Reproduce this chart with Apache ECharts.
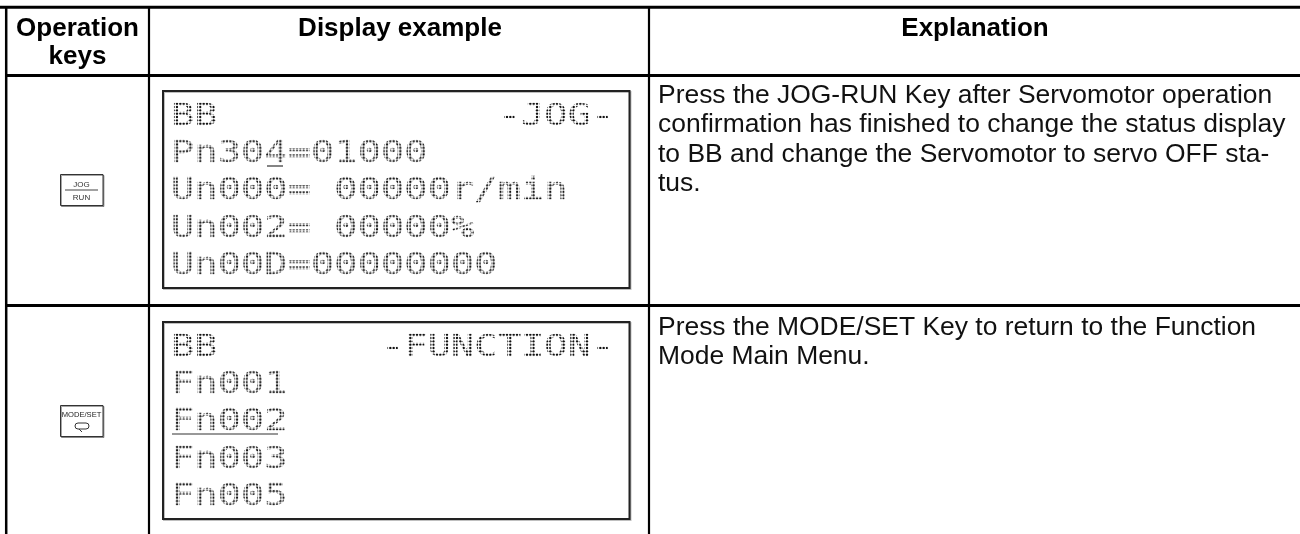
<!DOCTYPE html>
<html>
<head>
<meta charset="utf-8">
<style>html,body{margin:0;padding:0;background:#fff}#main{width:1300px;height:534px}</style>
<script src="https://cdn.jsdelivr.net/npm/echarts@6/dist/echarts.min.js"></script>
</head>
<body>
<div id="main"></div>
<script>
// table content
var headers = ['Operation', 'keys', 'Display example', 'Explanation'];
var lcdRow1 = ['BB            -JOG-', 'Pn304=01000', 'Un000= 00000r/min', 'Un002= 00000%', 'Un00D=00000000'];
var lcdRow2 = ['BB       -FUNCTION-', 'Fn001', 'Fn002', 'Fn003', 'Fn005'];
var explainRow1 = [
  'Press the JOG-RUN Key after Servomotor operation',
  'confirmation has finished to change the status display',
  'to BB and change the Servomotor to servo OFF sta-',
  'tus.'
];
var explainRow2 = ['Press the MODE/SET Key to return to the Function', 'Mode Main Menu.'];
var keyRow1 = ['JOG', 'RUN'];
var keyRow2 = ['MODE/SET'];

var DOT = 10 / 3;
var CELL = DOT * 7;
var SANS = '"Liberation Sans", Arial, sans-serif';
var MONO = '"DejaVu Sans Mono", monospace';

// white grid with transparent holes, laid over the LCD text so it reads as dots
function dotMask() {
  var c = document.createElement('canvas');
  c.width = c.height = 30;
  var g = c.getContext('2d');
  g.fillStyle = '#fff';
  g.fillRect(0, 0, 30, 30);
  g.globalCompositeOperation = 'destination-out';
  for (var i = 0; i < 9; i++) {
    for (var j = 0; j < 9; j++) {
      g.beginPath();
      g.arc((i + 0.5) * DOT, (j + 0.5) * DOT, 1.2, 0, Math.PI * 2);
      g.fill();
    }
  }
  return c;
}
var mask = dotMask();

var els = [];
function line(x1, y1, x2, y2, w, color) {
  els.push({ type: 'line', z: 5, shape: { x1: x1, y1: y1, x2: x2, y2: y2 }, style: { stroke: color || '#000', lineWidth: w } });
}
// y is the baseline, zrender only centres on the em box
function text(str, x, y, size, opt) {
  opt = opt || {};
  els.push({
    type: 'text', z: 5, x: x, y: y - size * 0.25,
    style: {
      text: str, fill: opt.fill || '#000', textAlign: opt.align || 'left', textVerticalAlign: 'middle',
      font: (opt.bold ? 'bold ' : '') + size + 'px ' + SANS
    }
  });
}

// table rules
line(0, 7.3, 1300, 7.3, 3);
line(5, 75.5, 1300, 75.5, 3);
line(5, 305.5, 1300, 305.5, 3);
line(6.2, 6, 6.2, 534, 2.5);
line(149, 6, 149, 534, 2.2);
line(649, 6, 649, 534, 2.2);

// header
text(headers[0], 77.5, 35, 26, { bold: true, align: 'center' });
text(headers[1], 77.5, 63, 26, { bold: true, align: 'center' });
text(headers[2], 400, 35, 26, { bold: true, align: 'center' });
text(headers[3], 975, 35, 26, { bold: true, align: 'center' });

// explanation column
explainRow1.forEach(function (s, i) { text(s, 658, 102.5 + i * 29.2, 26.45, { fill: '#111' }); });
explainRow2.forEach(function (s, i) { text(s, 658, 334 + i * 29.2, 26.45, { fill: '#111' }); });

// LCD panels
function lcd(lines, boxTop, boxBottom, firstTop) {
  els.push({
    type: 'rect', z: 2,
    shape: { x: 163, y: boxTop, width: 466.5, height: boxBottom - boxTop },
    style: { fill: '#fff', stroke: '#222', lineWidth: 2, shadowColor: 'rgba(0,0,0,0.25)', shadowBlur: 0, shadowOffsetX: 1, shadowOffsetY: 1 }
  });
  lines.forEach(function (s, i) {
    var top = firstTop + i * 37.4;
    els.push({
      type: 'text', z: 3, x: 171, y: top + 23.3 - 31 * 0.28, scaleX: CELL / (31 * 0.602),
      style: { text: s, fill: '#111', stroke: '#111', lineWidth: 0.3, textVerticalAlign: 'middle', font: '31px ' + MONO }
    });
    els.push({
      type: 'rect', z: 4, x: 172, y: top,
      shape: { x: -6, y: -6, width: 450, height: 34 },
      style: { fill: { image: mask, repeat: 'repeat' } }
    });
  });
}
lcd(lcdRow1, 91, 288, 102);
lcd(lcdRow2, 322, 519, 333);
line(267, 166, 283, 166, 1.2, '#333');
line(172, 434, 278, 434, 1.2, '#333');

// key caps
function keycap(y) {
  els.push({
    type: 'rect', z: 5, shape: { x: 60.5, y: y, width: 42.5, height: 31 },
    style: { fill: '#fff', stroke: '#333', lineWidth: 1, shadowColor: 'rgba(0,0,0,0.35)', shadowOffsetX: 1, shadowOffsetY: 1 }
  });
}
keycap(174.5);
text(keyRow1[0], 81.5, 187, 8, { fill: '#333', align: 'center' });
line(65, 190, 98, 190, 1.2, '#444');
text(keyRow1[1], 81.5, 199.5, 8, { fill: '#333', align: 'center' });
keycap(405.5);
text(keyRow2[0], 81.5, 417, 7.6, { fill: '#222', align: 'center' });
els.push({ type: 'rect', z: 6, shape: { x: 75, y: 423, width: 14, height: 6, r: 3 }, style: { fill: '#fff', stroke: '#333', lineWidth: 1 } });
line(79, 429, 82, 432, 1, '#333');
line(79, 429, 82, 427, 1, '#333');

var myChart = echarts.init(document.getElementById('main'), null, { renderer: 'canvas' });
myChart.setOption({
  animation: false,
  backgroundColor: '#fff',
  graphic: { elements: els }
});
</script>
</body>
</html>
